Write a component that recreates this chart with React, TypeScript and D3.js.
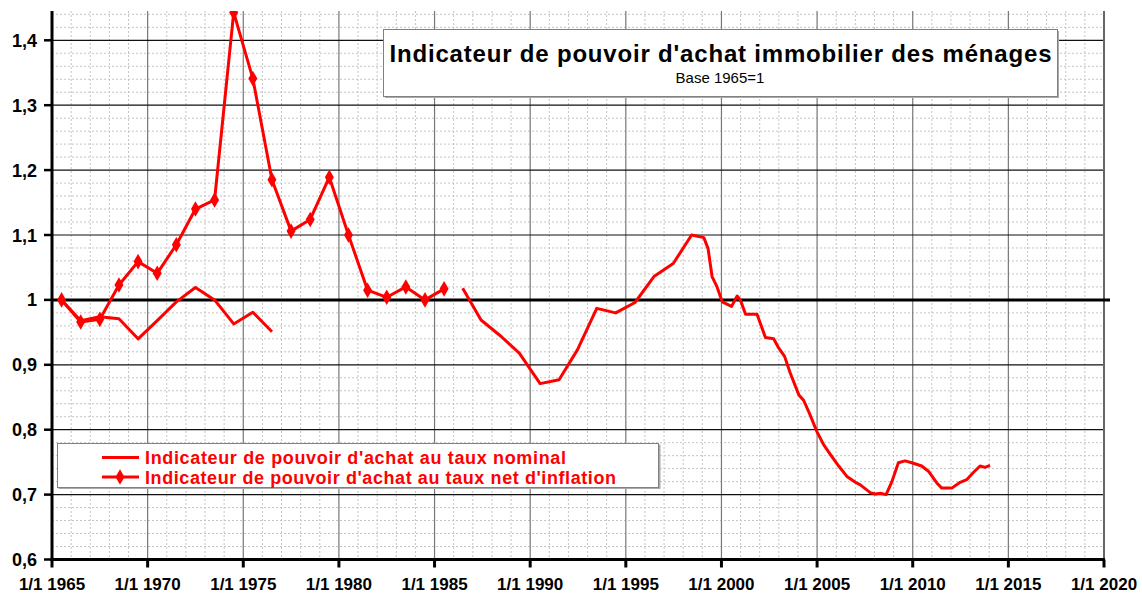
import React from 'react';
import { select, scaleLinear, line, range, symbol, symbolDiamond } from 'd3';

// indicateur au taux net d'inflation (points annuels)
const realYears = [1965.5, 1966.5, 1967.5, 1968.5, 1969.5, 1970.5, 1971.5, 1972.5, 1973.5, 1974.5,
    1975.5, 1976.5, 1977.5, 1978.5, 1979.5, 1980.5, 1981.5, 1982.5, 1983.5, 1984.5, 1985.5];
const realValues = [1.0, 0.966, 0.970, 1.023, 1.059, 1.041, 1.085, 1.140, 1.154, 1.443,
    1.341, 1.185, 1.106, 1.124, 1.189, 1.100, 1.015, 1.004, 1.020, 1.000, 1.017];

// indicateur au taux nominal, 1ere partie
const nominalYearsA = [1965.5, 1966.5, 1967.5, 1968.5, 1969.5, 1970.5, 1971.5, 1972.5, 1973.5, 1974.5, 1975.5, 1976.5];
const nominalValuesA = [1.0, 0.968, 0.974, 0.971, 0.940, 0.968, 0.997, 1.019, 1.0, 0.963, 0.981, 0.951];

// indicateur au taux nominal, 2eme partie
const nominalYearsB = [1986.47, 1987.43, 1988.47, 1989.43, 1990.52, 1991.51, 1992.47, 1993.48, 1994.47, 1995.48,
    1996.47, 1997.48, 1998.44, 1999.08, 1999.3, 1999.51, 1999.77, 2000.04, 2000.53, 2000.82, 2000.99,
    2001.26, 2001.86, 2002.3, 2002.73, 2002.99, 2003.3, 2003.6, 2004.04, 2004.3, 2004.56, 2004.99,
    2005.34, 2005.69, 2006.13, 2006.56, 2007.0, 2007.26, 2007.78, 2008.04, 2008.3, 2008.61, 2008.91,
    2009.25, 2009.6, 2009.95, 2010.47, 2010.82, 2011.26, 2011.52, 2012.04, 2012.48, 2012.82, 2013.17,
    2013.52, 2013.78, 2014.04];
const nominalValuesB = [1.018, 0.969, 0.944, 0.918, 0.871, 0.877, 0.923, 0.987, 0.980, 0.996,
    1.036, 1.056, 1.100, 1.096, 1.079, 1.036, 1.020, 0.997, 0.990, 1.006, 1.0,
    0.978, 0.978, 0.942, 0.940, 0.926, 0.913, 0.887, 0.854, 0.845, 0.828, 0.797,
    0.777, 0.762, 0.744, 0.728, 0.719, 0.715, 0.703, 0.701, 0.702, 0.700, 0.720,
    0.749, 0.752, 0.749, 0.744, 0.736, 0.718, 0.710, 0.710, 0.719, 0.723, 0.734,
    0.744, 0.742, 0.745];

const yTicks = [0.6, 0.7, 0.8, 0.9, 1.0, 1.1, 1.2, 1.3, 1.4];
const xTicks = [1965, 1970, 1975, 1980, 1985, 1990, 1995, 2000, 2005, 2010, 2015, 2020];

const titleText = "Indicateur de pouvoir d'achat immobilier des ménages";
const subtitleText = 'Base 1965=1';
const legendLabels = [
    "Indicateur de pouvoir d'achat au taux nominal",
    "Indicateur de pouvoir d'achat au taux net d'inflation",
];
const legendWidths = [421, 471];

const dims = {
    width: 1142,
    height: 594,
    left: 52,
    right: 1104,
    top: 11,
};

const font = "'Liberation Sans', Arial, sans-serif";
const red = '#ff0000';

const App: React.FC = () => {
    const svgRef = React.useRef<SVGSVGElement>(null);

    React.useEffect(() => {
        const svg = select(svgRef.current);
        svg.selectAll('*').remove();

        const x = scaleLinear().domain([1965, 2020]).range([dims.left, dims.right]);
        const y = scaleLinear().domain([0.6, 1.4]).range([559.5, 40.3]);
        const bottom = y(0.6);

        svg.append('rect').attr('width', dims.width).attr('height', dims.height).attr('fill', '#fff');

        svg.append('clipPath').attr('id', 'plot-clip')
            .append('rect')
            .attr('x', dims.left).attr('y', dims.top)
            .attr('width', dims.right - dims.left).attr('height', bottom - dims.top);

        const grid = svg.append('g');

        // minor grid (every year, every 0.02)
        grid.selectAll('.vminor')
            .data(range(1966, 2020).filter(d => d % 5 !== 0))
            .join('line')
            .attr('x1', d => x(d)).attr('x2', d => x(d))
            .attr('y1', dims.top).attr('y2', bottom)
            .attr('stroke', '#c4c4c4').attr('stroke-dasharray', '2,2');

        grid.selectAll('.hminor')
            .data(range(31, 73).filter(d => d % 5 !== 0).map(d => d / 50))
            .join('line')
            .attr('x1', dims.left).attr('x2', dims.right)
            .attr('y1', d => y(d)).attr('y2', d => y(d))
            .attr('stroke', '#c4c4c4').attr('stroke-dasharray', '2,2');

        // major grid
        grid.selectAll('.vmajor')
            .data(xTicks.slice(1, -1))
            .join('line')
            .attr('x1', d => x(d)).attr('x2', d => x(d))
            .attr('y1', dims.top).attr('y2', bottom)
            .attr('stroke', '#777').attr('stroke-width', 1.2);

        grid.selectAll('.hmajor')
            .data(yTicks.slice(1).filter(d => d !== 1.0))
            .join('line')
            .attr('x1', dims.left).attr('x2', dims.right)
            .attr('y1', d => y(d)).attr('y2', d => y(d))
            .attr('stroke', '#111').attr('stroke-width', 1.2);

        // right border
        svg.append('line')
            .attr('x1', dims.right).attr('x2', dims.right)
            .attr('y1', dims.top).attr('y2', bottom)
            .attr('stroke', '#666').attr('stroke-width', 2);

        // base line 1
        svg.append('line')
            .attr('x1', dims.left).attr('x2', dims.right + 6)
            .attr('y1', y(1)).attr('y2', y(1))
            .attr('stroke', '#000').attr('stroke-width', 3);

        // series
        const lineGen = line<[number, number]>().x(d => x(d[0])).y(d => y(d[1]));
        const plot = svg.append('g').attr('clip-path', 'url(#plot-clip)');

        const segA = nominalYearsA.map((d, i) => [d, nominalValuesA[i]] as [number, number]);
        const segB = nominalYearsB.map((d, i) => [d, nominalValuesB[i]] as [number, number]);
        const real = realYears.map((d, i) => [d, realValues[i]] as [number, number]);

        [segA, segB, real].forEach(seg => {
            plot.append('path')
                .attr('d', lineGen(seg))
                .attr('fill', 'none')
                .attr('stroke', red)
                .attr('stroke-width', 3)
                .attr('stroke-linejoin', 'round');
        });

        const diamond = symbol().type(symbolDiamond).size(70);
        plot.selectAll('.marker')
            .data(real)
            .join('path')
            .attr('transform', d => `translate(${x(d[0])},${y(d[1])})`)
            .attr('d', diamond())
            .attr('fill', red);

        // axes
        svg.append('line')
            .attr('x1', dims.left).attr('x2', dims.left)
            .attr('y1', dims.top).attr('y2', bottom + 1.5)
            .attr('stroke', '#000').attr('stroke-width', 3);
        svg.append('line')
            .attr('x1', dims.left - 1.5).attr('x2', dims.right + 1)
            .attr('y1', bottom).attr('y2', bottom)
            .attr('stroke', '#000').attr('stroke-width', 3);

        svg.selectAll('.ytick')
            .data(yTicks)
            .join('line')
            .attr('x1', dims.left - 8).attr('x2', dims.left)
            .attr('y1', d => y(d)).attr('y2', d => y(d))
            .attr('stroke', '#000').attr('stroke-width', 2.5);

        svg.selectAll('.ylabel')
            .data(yTicks)
            .join('text')
            .attr('x', 37).attr('y', d => y(d) + 6.5)
            .attr('text-anchor', 'end')
            .attr('font-family', font).attr('font-weight', 'bold').attr('font-size', 18)
            .text(d => String(Math.round(d * 10) / 10).replace('.', ','));

        svg.selectAll('.xtick')
            .data(xTicks)
            .join('line')
            .attr('x1', d => x(d)).attr('x2', d => x(d))
            .attr('y1', bottom).attr('y2', bottom + 8)
            .attr('stroke', '#000').attr('stroke-width', 3);

        svg.selectAll('.xlabel')
            .data(xTicks)
            .join('text')
            .attr('x', d => x(d)).attr('y', 590)
            .attr('text-anchor', 'middle')
            .attr('font-family', font).attr('font-weight', 'bold').attr('font-size', 17)
            .text(d => `1/1 ${d}`);

        // title box
        svg.append('rect')
            .attr('x', 385).attr('y', 31).attr('width', 674).attr('height', 67)
            .attr('fill', '#aaa');
        svg.append('rect')
            .attr('x', 383.5).attr('y', 29.5).attr('width', 674).attr('height', 67)
            .attr('fill', '#fff').attr('stroke', '#808080');
        svg.append('text')
            .attr('x', 720.5).attr('y', 62)
            .attr('text-anchor', 'middle')
            .attr('font-family', font).attr('font-weight', 'bold').attr('font-size', 24)
            .attr('textLength', 662)
            .text(titleText);
        svg.append('text')
            .attr('x', 720).attr('y', 83)
            .attr('text-anchor', 'middle')
            .attr('font-family', font).attr('font-size', 15)
            .text(subtitleText);

        // legend
        svg.append('rect')
            .attr('x', 58.5).attr('y', 444.5).attr('width', 602).attr('height', 44.5)
            .attr('fill', '#aaa');
        svg.append('rect')
            .attr('x', 57.5).attr('y', 443.5).attr('width', 601).attr('height', 44)
            .attr('fill', '#fff').attr('stroke', '#808080');

        const legendRows = [457.5, 477];
        legendRows.forEach((ly, i) => {
            svg.append('line')
                .attr('x1', 102).attr('x2', 139)
                .attr('y1', ly).attr('y2', ly)
                .attr('stroke', red).attr('stroke-width', 3);
            if (i === 1) {
                svg.append('path')
                    .attr('transform', `translate(120,${ly})`)
                    .attr('d', diamond())
                    .attr('fill', red);
            }
            svg.append('text')
                .attr('x', 145).attr('y', ly + 6.5)
                .attr('font-family', font).attr('font-weight', 'bold').attr('font-size', 18)
                .attr('textLength', legendWidths[i])
                .attr('fill', red)
                .text(legendLabels[i]);
        });
    }, []);

    return (
        <svg
            ref={svgRef}
            width={dims.width}
            height={dims.height}
            style={{ position: 'absolute', left: 0, top: 0 }}
        />
    );
};

export default App;
